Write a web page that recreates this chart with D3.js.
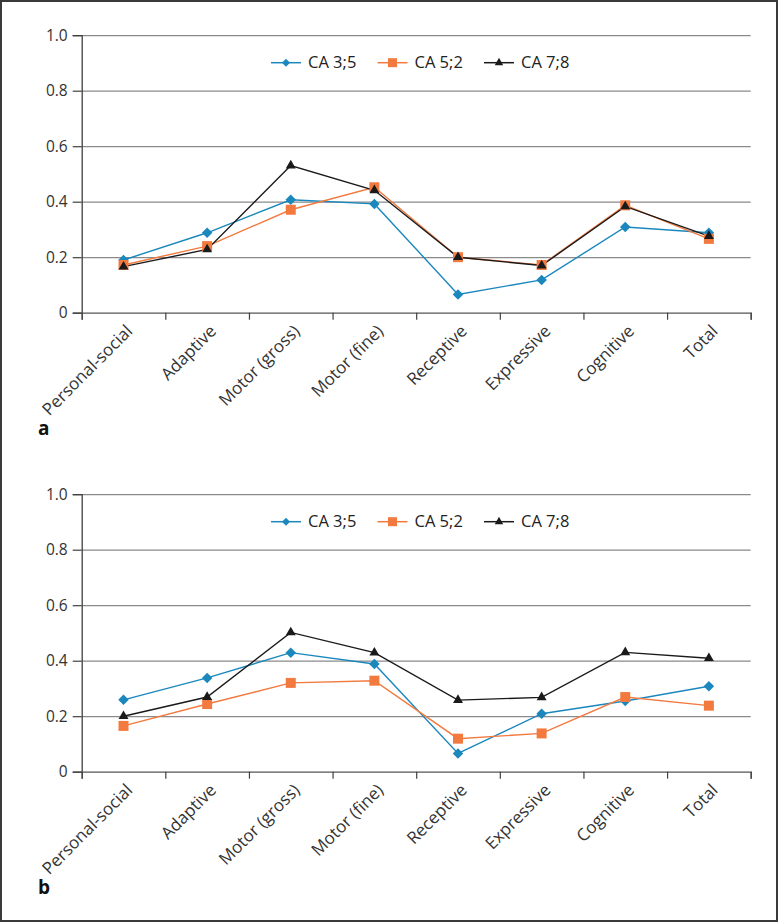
<!DOCTYPE html>
<html>
<head>
<meta charset="utf-8">
<script src="https://cdn.jsdelivr.net/npm/d3@7"></script>
<style>
  html, body { margin: 0; padding: 0; background: #fff; }
  svg { display: block; font-family: "Open Sans", "Noto Sans", sans-serif; }
</style>
</head>
<body>
<svg id="chart" width="778" height="922"></svg>
<script>
// data
const categories = ["Personal-social", "Adaptive", "Motor (gross)", "Motor (fine)",
                    "Receptive", "Expressive", "Cognitive", "Total"];
const seriesNames = ["CA 3;5", "CA 5;2", "CA 7;8"];
const yTicks = [0, 0.2, 0.4, 0.6, 0.8, 1.0];

// panel a
const a_ca35 = [0.19, 0.288, 0.407, 0.392, 0.066, 0.118, 0.309, 0.288];
const a_ca52 = [0.172, 0.24, 0.371, 0.452, 0.2, 0.172, 0.387, 0.266];
const a_ca78 = [0.166, 0.228, 0.53, 0.441, 0.2, 0.17, 0.383, 0.276];

// panel b
const b_ca35 = [0.259, 0.338, 0.429, 0.388, 0.066, 0.209, 0.255, 0.308];
const b_ca52 = [0.165, 0.244, 0.32, 0.328, 0.119, 0.138, 0.269, 0.238];
const b_ca78 = [0.2, 0.269, 0.502, 0.429, 0.258, 0.268, 0.43, 0.409];

const colors = ["#1a87bd", "#f37a3f", "#1a1a1a"];
const markers = ["diamond", "square", "triangle"];

const svg = d3.select("#chart");

// frame
svg.append("rect")
  .attr("x", 1).attr("y", 1)
  .attr("width", 776).attr("height", 920)
  .attr("fill", "#fff")
  .attr("stroke", "#3a3a3a")
  .attr("stroke-width", 2);

const x0 = 81.7, x1 = 750.7;
const x = d3.scaleBand().domain(categories).range([x0, x1]);
const y = d3.scaleLinear().domain([0, 1]).range([312.7, 35.2]);

function markerPath(type, size) {
  if (type === "diamond") {
    const h = size / 2;
    return `M0,${-h}L${h},0L0,${h}L${-h},0Z`;
  }
  if (type === "square") {
    const h = size / 2;
    return `M${-h},${-h}H${h}V${h}H${-h}Z`;
  }
  return d3.symbol(d3.symbolTriangle, size * size * 0.43)();
}

function drawPanel(offset, series, letter) {
  const g = svg.append("g").attr("transform", `translate(0,${offset})`);

  // gridlines
  g.append("g")
    .attr("transform", `translate(${x0},0)`)
    .call(d3.axisLeft(y).tickValues(yTicks.filter(d => d > 0)).tickSize(-(x1 - x0)).tickFormat(""))
    .call(s => s.select(".domain").remove())
    .call(s => s.selectAll("line").attr("stroke", "#8a8a8a").attr("stroke-width", 1.2));

  // y axis
  g.append("g")
    .attr("transform", `translate(${x0},0)`)
    .call(d3.axisLeft(y).tickValues(yTicks).tickSize(9).tickPadding(5)
      .tickFormat(d => d === 0 ? "0" : d3.format(".1f")(d)))
    .call(s => s.select(".domain").attr("stroke", "#404040").attr("stroke-width", 1.3))
    .call(s => s.selectAll("line").attr("stroke", "#404040").attr("stroke-width", 1.2))
    .call(s => s.selectAll("text").attr("fill", "#333").style("font-size", "15.5px")
      .style("font-family", "'Open Sans', 'Noto Sans', sans-serif"));

  // x axis with ticks at category boundaries
  const xb = d3.scaleLinear().domain([0, categories.length]).range([x0, x1]);
  g.append("g")
    .attr("transform", `translate(0,${y(0)})`)
    .call(d3.axisBottom(xb).tickValues(d3.range(categories.length + 1)).tickSize(7).tickFormat(""))
    .call(s => s.select(".domain").attr("stroke", "#555").attr("stroke-width", 1.3))
    .call(s => s.selectAll("line").attr("stroke", "#404040").attr("stroke-width", 1.2));

  // category labels
  g.append("g").selectAll("text")
    .data(categories)
    .join("text")
    .attr("transform", d => `translate(${x(d) + x.bandwidth() / 2 + 10},${y(0) + 19.5}) rotate(-45)`)
    .attr("text-anchor", "end")
    .attr("fill", "#333")
    .style("font-size", "17px")
    .text(d => d);

  // series lines + markers
  const line = d3.line()
    .x((d, i) => x(categories[i]) + x.bandwidth() / 2)
    .y(d => y(d));

  series.forEach((vals, k) => {
    g.append("path")
      .datum(vals)
      .attr("d", line)
      .attr("fill", "none")
      .attr("stroke", colors[k])
      .attr("stroke-width", 1.4);
  });
  series.forEach((vals, k) => {
    g.append("g").selectAll("path")
      .data(vals)
      .join("path")
      .attr("transform", (d, i) => `translate(${x(categories[i]) + x.bandwidth() / 2},${y(d)})`)
      .attr("d", markerPath(markers[k], markers[k] === "diamond" ? 10.5 : 10))
      .attr("fill", colors[k]);
  });

  // legend
  const legSizes = [8, 9, 8.5];
  const leg = g.append("g").attr("transform", `translate(271,${y(1) + 27.5})`);
  seriesNames.forEach((name, k) => {
    const item = leg.append("g").attr("transform", `translate(${k * 106.5},0)`);
    item.append("line")
      .attr("x1", 0).attr("x2", 30)
      .attr("stroke", colors[k]).attr("stroke-width", 1.5);
    item.append("path")
      .attr("transform", "translate(15,0)")
      .attr("d", markerPath(markers[k], legSizes[k]))
      .attr("fill", colors[k]);
    item.append("text")
      .attr("x", 37).attr("dy", "0.35em")
      .attr("fill", "#222")
      .style("font-size", "16.5px")
      .text(name);
  });

  // panel letter
  g.append("text")
    .attr("x", 38).attr("y", 435)
    .attr("fill", "#111")
    .style("font-size", "19px")
    .style("font-weight", "bold")
    .text(letter);
}

drawPanel(0, [a_ca35, a_ca52, a_ca78], "a");
drawPanel(459, [b_ca35, b_ca52, b_ca78], "b");
</script>
</body>
</html>
